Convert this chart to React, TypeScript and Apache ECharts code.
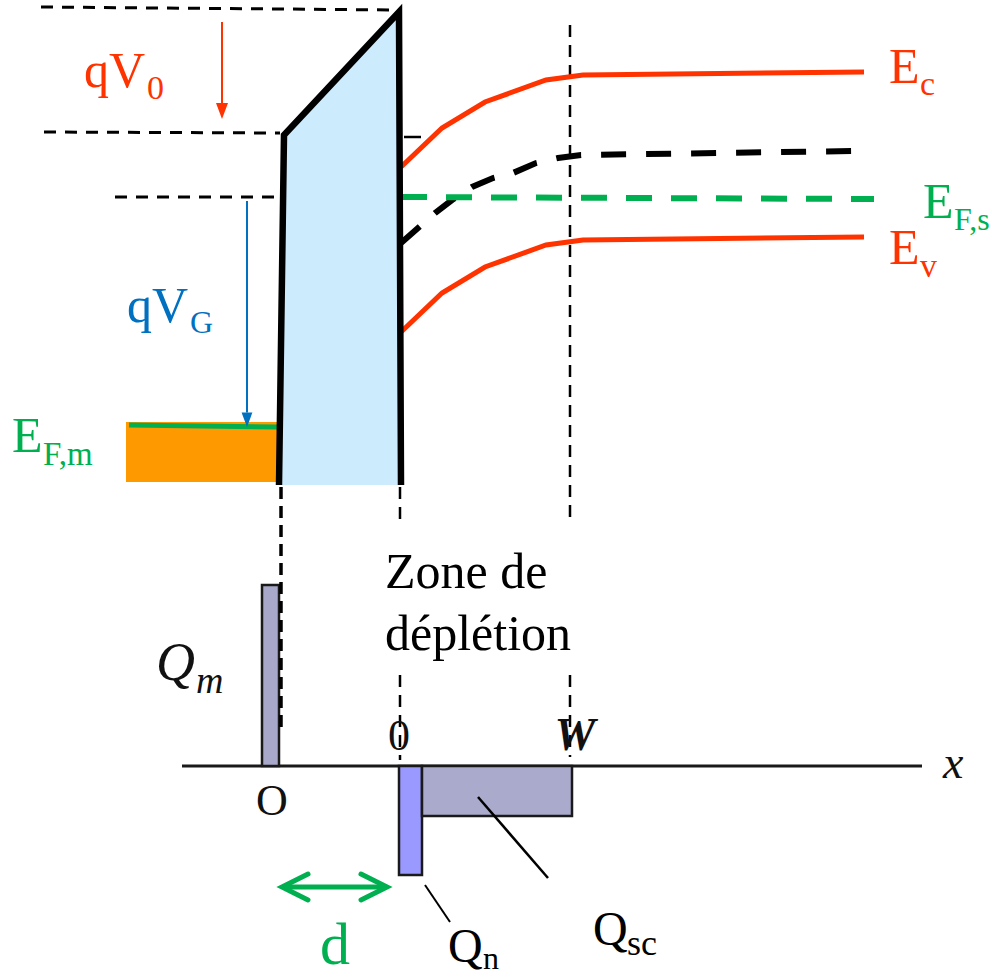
import React, { useEffect, useRef } from "react";
import * as echarts from "echarts";

const W = 992;
const H = 979;
const RED = "#FF3300";
const GREEN = "#00B050";
const BLUE = "#0070C0";
const ORANGE = "#FF9900";
const OXIDE = "#CCEBFD";
const SERIF = "Liberation Serif";

// Band diagram (x, y in picture units)
const conductionBand = [[401, 167], [442, 128], [485, 102], [546, 80], [583, 75], [864, 72]];
const valenceBand = [[401, 332], [442, 293], [485, 267], [546, 245], [583, 240], [864, 237]];
const intrinsicLevel = [[401, 243], [435, 213], [452, 200], [472, 187], [493, 178], [513, 173], [536, 163], [558, 158], [581, 155], [853, 151]];
const fermiSemi = [[401, 197], [874, 199]];
const oxideOutline = [[279, 485], [284, 135], [399, 12], [401, 485]];
const fermiMetal = [[129, 425], [277, 427]];
const metalBlock = [[126, 422, 278, 482]];

// Guides
const guideTop = [[41, 7], [397, 10]];
const guideMid = [[44, 132], [280, 133]];
const guideLow = [[115, 197], [280, 197]];
const tickMark = [[404, 137], [421, 137]];
const guideMetal = [[281, 487], [281, 728]];
const guideOxideA = [[400, 487], [400, 520]];
const guideOxideB = [[400, 675], [400, 760]];
const guideWA = [[570, 25], [570, 520]];
const guideWB = [[570, 675], [570, 757]];

// Arrows [x0, y0, x1, y1]
const arrowV0 = [[222, 22, 222, 119]];
const arrowVG = [[247, 201, 247, 427]];
const arrowD = [[282, 887, 387, 887]];

// Charge diagram
const xAxisLine = [[182, 766], [922, 766]];
const chargeBoxes = [
  [262, 585, 279, 766],
  [399, 766, 422, 875],
  [422, 766, 572, 816],
];
const chargeFills = ["#A8A8CA", "#9999FF", "#AAAACC"];
const leaderQsc = [[478, 797], [548, 878]];
const leaderQn = [[425, 885], [450, 922]];

// Labels: text, left x (or center), baseline, size, colour, style
const labels = [
  { t: "qV", x: 84, b: 87, s: 50, c: RED },
  { t: "0", x: 147, b: 99, s: 34, c: RED },
  { t: "qV", x: 127, b: 322, s: 50, c: BLUE },
  { t: "G", x: 190, b: 333, s: 32, c: BLUE },
  { t: "E", x: 12, b: 452, s: 50, c: GREEN },
  { t: "F,m", x: 43, b: 465, s: 33, c: GREEN },
  { t: "E", x: 889, b: 83, s: 50, c: RED },
  { t: "c", x: 920, b: 95, s: 34, c: RED },
  { t: "E", x: 923, b: 218, s: 50, c: GREEN },
  { t: "F,s", x: 954, b: 230, s: 32, c: GREEN },
  { t: "E", x: 889, b: 264, s: 50, c: RED },
  { t: "v", x: 920, b: 277, s: 34, c: RED },
  { t: "Zone de", x: 385, b: 588, s: 50, c: "#000" },
  { t: "déplétion", x: 385, b: 650, s: 50, c: "#000" },
  { t: "Q", x: 156, b: 680, s: 54, c: "#111", st: "italic" },
  { t: "m", x: 196, b: 693, s: 38, c: "#111", st: "italic" },
  { t: "0", x: 399, b: 750, s: 44, c: "#111", a: "center" },
  { t: "W", x: 575, b: 750, s: 46, c: "#111", st: "italic", w: "bold", a: "center" },
  { t: "O", x: 272, b: 815, s: 44, c: "#111", a: "center" },
  { t: "d", x: 320, b: 964, s: 60, c: GREEN },
  { t: "Q", x: 448, b: 962, s: 48, c: "#000" },
  { t: "n", x: 483, b: 969, s: 32, c: "#000" },
  { t: "Q", x: 593, b: 945, s: 48, c: "#000" },
  { t: "sc", x: 627, b: 955, s: 36, c: "#000" },
  { t: "x", x: 943, b: 778, s: 46, c: "#111", st: "italic" },
];

function poly(id: string, data: number[][], color: string, width: number, dash?: number[], z = 3) {
  return {
    type: "line",
    id,
    data,
    symbol: "none",
    silent: true,
    clip: false,
    z,
    lineStyle: { color, width, type: dash ?? "solid", cap: "butt", join: "miter" },
  };
}

function arrowSeries(id: string, data: number[][], color: string, width: number, head: number, double: boolean) {
  return {
    type: "custom",
    id,
    data,
    silent: true,
    clip: false,
    z: 4,
    renderItem: (params: any, api: any) => {
      const p0 = api.coord([api.value(0), api.value(1)]);
      const p1 = api.coord([api.value(2), api.value(3)]);
      const dx = p1[0] - p0[0];
      const dy = p1[1] - p0[1];
      const len = Math.hypot(dx, dy);
      const ux = dx / len;
      const uy = dy / len;
      const nx = -uy;
      const ny = ux;
      const children: any[] = [];
      if (!double) {
        const bx = p1[0] - ux * head * 1.6;
        const by = p1[1] - uy * head * 1.6;
        children.push({
          type: "line",
          shape: { x1: p0[0], y1: p0[1], x2: bx, y2: by },
          style: { stroke: color, lineWidth: width },
        });
        children.push({
          type: "polygon",
          shape: {
            points: [
              [p1[0], p1[1]],
              [bx + nx * head * 0.6, by + ny * head * 0.6],
              [bx - nx * head * 0.6, by - ny * head * 0.6],
            ],
          },
          style: { fill: color },
        });
      } else {
        children.push({
          type: "line",
          shape: { x1: p0[0] + ux * 2, y1: p0[1] + uy * 2, x2: p1[0] - ux * 2, y2: p1[1] - uy * 2 },
          style: { stroke: color, lineWidth: width },
        });
        const ends = [
          [p0, 1],
          [p1, -1],
        ] as any[];
        ends.forEach(([p, sgn]) => {
          const bx = p[0] + sgn * ux * head * 2;
          const by = p[1] + sgn * uy * head * 2;
          children.push({
            type: "polyline",
            shape: {
              points: [
                [bx + nx * head, by + ny * head],
                [p[0], p[1]],
                [bx - nx * head, by - ny * head],
              ],
            },
            style: { stroke: color, lineWidth: width, fill: null, lineJoin: "miter", lineCap: "round" },
          });
        });
      }
      return { type: "group", children };
    },
  };
}

function rectSeries(id: string, data: number[][], fills: string[], stroke: string | null, lineWidth: number, z: number) {
  return {
    type: "custom",
    id,
    data,
    silent: true,
    clip: false,
    z,
    renderItem: (params: any, api: any) => {
      const p0 = api.coord([api.value(0), api.value(1)]);
      const p1 = api.coord([api.value(2), api.value(3)]);
      return {
        type: "rect",
        shape: {
          x: Math.min(p0[0], p1[0]),
          y: Math.min(p0[1], p1[1]),
          width: Math.abs(p1[0] - p0[0]),
          height: Math.abs(p1[1] - p0[1]),
        },
        style: { fill: fills[params.dataIndex % fills.length], stroke: stroke ?? undefined, lineWidth },
      };
    },
  };
}

export default function App() {
  const ref = useRef<HTMLDivElement>(null);
  useEffect(() => {
    document.body.style.margin = "0";
    if (!ref.current) return;
    const chart = echarts.init(ref.current, undefined, { renderer: "svg" });

    const oxideFill = {
      type: "custom",
      id: "oxideFill",
      data: [[0, 0]],
      silent: true,
      clip: false,
      z: 1,
      renderItem: (params: any, api: any) => ({
        type: "polygon",
        shape: { points: oxideOutline.map((p) => api.coord(p)) },
        style: { fill: OXIDE },
      }),
    };

    const graphicTexts = labels.map((l: any) => ({
      type: "text",
      x: l.x,
      y: l.b - 0.34 * l.s,
      silent: true,
      z: 10,
      style: {
        text: l.t,
        fill: l.c,
        fontFamily: SERIF,
        fontSize: l.s,
        fontStyle: l.st ?? "normal",
        fontWeight: l.w ?? "normal",
        lineHeight: Math.round(l.s * 0.8),
        textAlign: l.a ?? "left",
        textVerticalAlign: "middle",
        align: l.a ?? "left",
        verticalAlign: "middle",
      },
    }));

    chart.setOption({
      animation: false,
      backgroundColor: "#ffffff",
      grid: { left: 0, right: 0, top: 0, bottom: 0 },
      xAxis: { type: "value", min: 0, max: W, show: false },
      yAxis: { type: "value", min: 0, max: H, inverse: true, show: false },
      series: [
        oxideFill,
        rectSeries("metal", metalBlock, [ORANGE], null, 0, 1),
        poly("fermiMetal", fermiMetal, GREEN, 5, undefined, 2),
        poly("guideTop", guideTop, "#000", 3, [12, 9]),
        poly("guideMid", guideMid, "#000", 3, [12, 9]),
        poly("guideLow", guideLow, "#000", 3, [12, 9]),
        poly("tick", tickMark, "#000", 2.5),
        poly("guideMetal", guideMetal, "#000", 3.5, [12, 7]),
        poly("guideOxideA", guideOxideA, "#000", 2.5, [12, 8]),
        poly("guideOxideB", guideOxideB, "#000", 2.5, [12, 8]),
        poly("guideWA", guideWA, "#000", 2.5, [12, 8]),
        poly("guideWB", guideWB, "#000", 2.5, [12, 8]),
        poly("Ec", conductionBand, RED, 5),
        poly("Ev", valenceBand, RED, 5),
        poly("Ei", intrinsicLevel, "#000", 6, [25, 20]),
        poly("EFs", fermiSemi, GREEN, 6, [26, 19]),
        poly("oxide", oxideOutline, "#000", 6.5, undefined, 5),
        arrowSeries("arrowV0", arrowV0, RED, 2, 10, false),
        arrowSeries("arrowVG", arrowVG, BLUE, 2, 9, false),
        arrowSeries("arrowD", arrowD, GREEN, 5, 13, true),
        poly("axis", xAxisLine, "#1a1a1a", 3, undefined, 2),
        rectSeries("charges", chargeBoxes, chargeFills, "#1a1a1a", 2.5, 3),
        poly("leaderQsc", leaderQsc, "#000", 2.5, undefined, 4),
        poly("leaderQn", leaderQn, "#000", 2, undefined, 4),
      ],
      graphic: graphicTexts,
    });
    return () => chart.dispose();
  }, []);
  return <div ref={ref} style={{ width: W, height: H }} />;
}
